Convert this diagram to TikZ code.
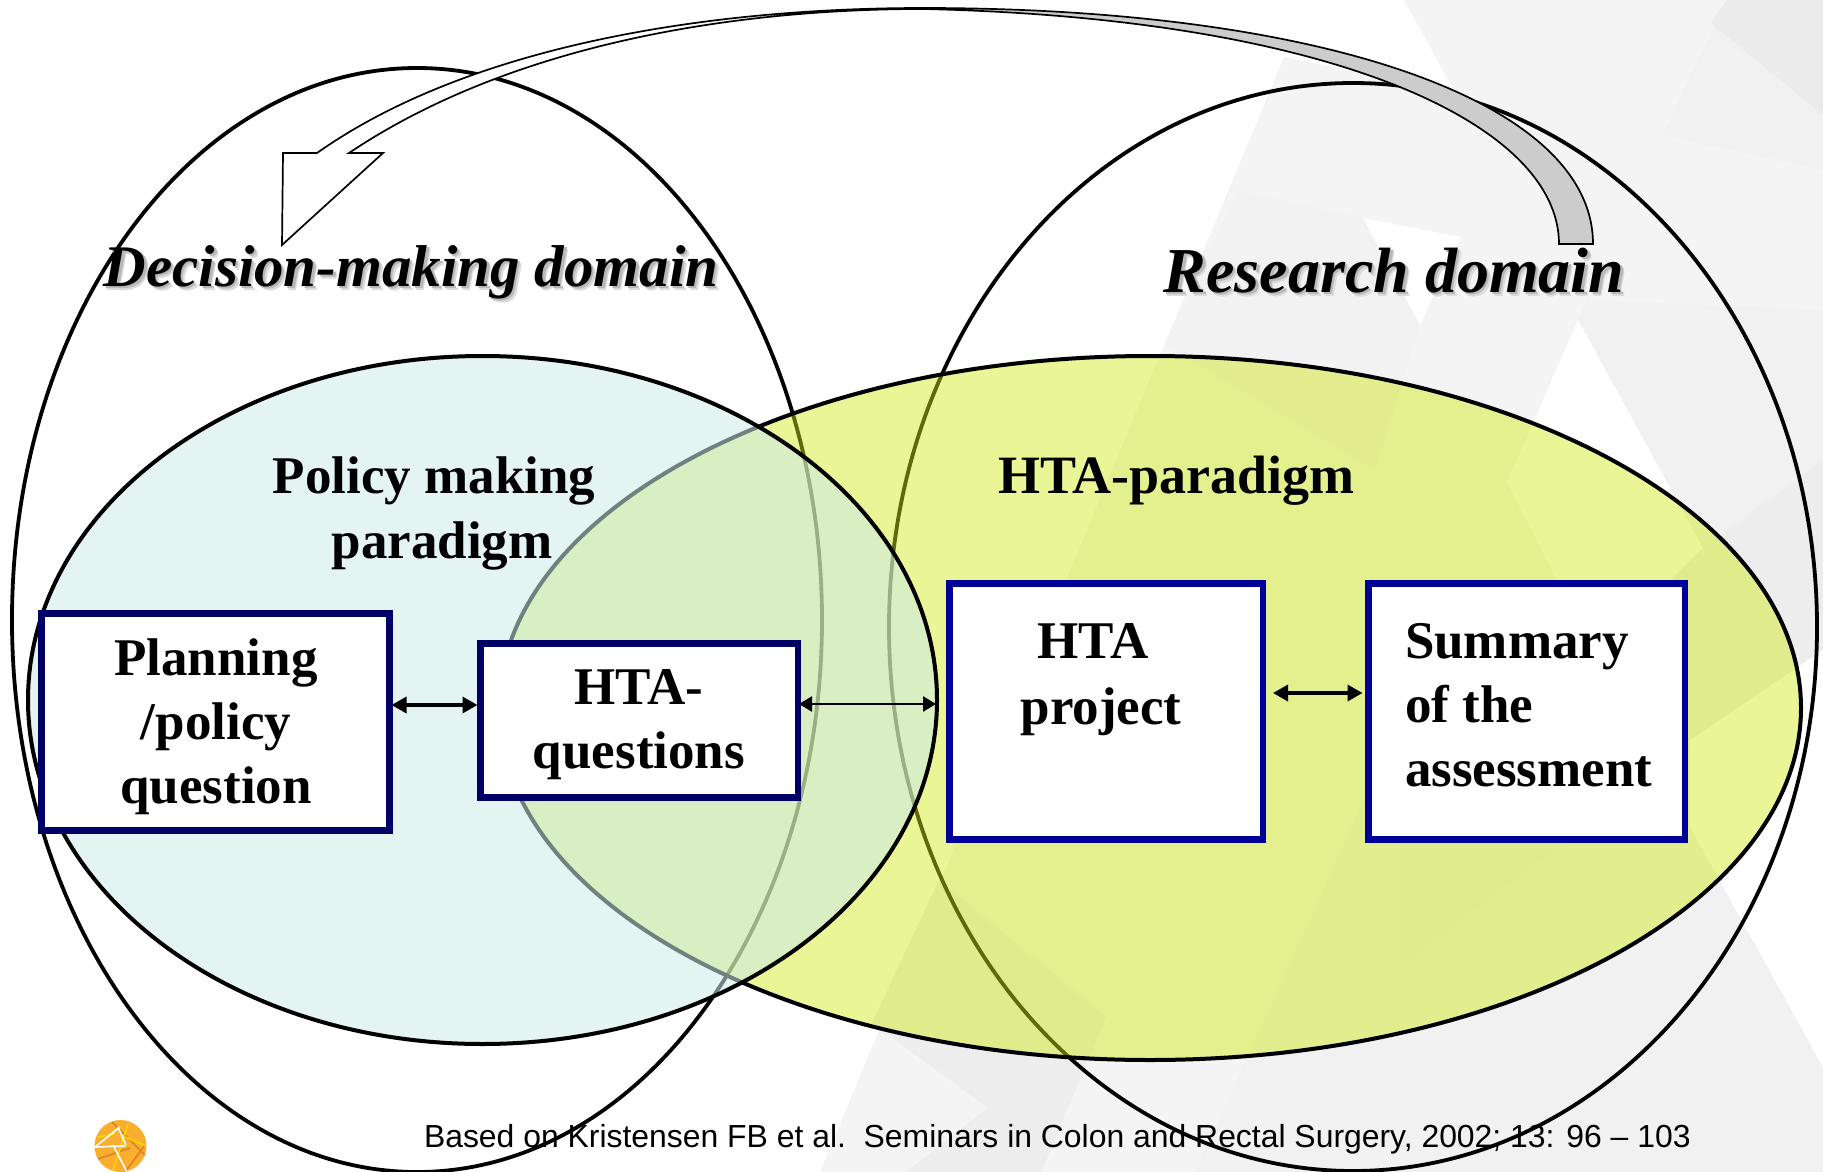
\documentclass[tikz,border=0pt]{standalone}
\usepackage{fontspec}
\setmainfont{Liberation Serif}
\newfontfamily\footfont{Liberation Sans}
\usetikzlibrary{arrows.meta,shapes.geometric}
\definecolor{htafill}{RGB}{209,233,20}
\definecolor{polfill}{RGB}{204,235,233}
\definecolor{navyA}{RGB}{0,0,102}
\definecolor{navyB}{RGB}{0,0,153}
\definecolor{logoorange}{RGB}{249,174,45}
\definecolor{logodark}{RGB}{222,130,40}
\definecolor{logoyellow}{RGB}{255,214,0}
\newcommand{\softshadow}[1]{\makebox[0pt][l]{\hspace{4pt}\raisebox{-4pt}{\color{black!14}#1}}\makebox[0pt][l]{\hspace{2.5pt}\raisebox{-2.5pt}{\color{black!28}#1}}#1}
\tikzset{
  x=1pt,y=-1pt,
  domainring/.style={ellipse,draw=black,line width=3.8pt,inner sep=0pt,outer sep=0pt},
  hta ring/.style={ellipse,draw=black,line width=4pt,inner sep=0pt,outer sep=0pt,fill=htafill,fill opacity=.45},
  pol ring/.style={ellipse,draw=black,line width=4pt,inner sep=0pt,outer sep=0pt,fill=polfill,fill opacity=.55},
  boxA/.style={rectangle,draw=navyA,fill=white,line width=6.2pt,inner sep=0pt,outer sep=0pt},
  boxB/.style={rectangle,draw=navyB,fill=white,line width=6.2pt,inner sep=0pt,outer sep=0pt},
  label text/.style={inner sep=0pt,outer sep=0pt,font=\fontsize{53}{64}\selectfont\bfseries},
  domain text/.style={inner sep=0pt,outer sep=0pt,font=\bfseries\itshape},
  both arrow/.style={{Triangle[length=15pt,width=16pt]}-{Triangle[length=15pt,width=16pt]},line width=3.4pt,black},
  thin arrow/.style={{Triangle[length=13pt,width=15pt]}-{Triangle[length=13pt,width=15pt]},line width=2.6pt,black},
  curve part/.style={draw=black,line width=1.7pt,line join=miter},
  logo line/.style={line width=1.6pt},
}
\begin{document}
\begin{tikzpicture}
\useasboundingbox (0,0) rectangle (1823,1172);
\fill[white] (0,0) rectangle (1823,1172);
% background fan
\fill[black!4.5] (1404,0) -- (1455,92) -- (1284,57) -- (820,1172) -- (1823,1172) -- (1823,0) -- cycle;
\fill[black!5.5] (1727,0) -- (1663,135) -- (1823,170) -- (1823,0) -- cycle;
\fill[black!8] (1727,0) -- (1711,23) -- (1823,115) -- (1823,0) -- cycle;
\fill[black!5.5] (1587,300) -- (1578,320) -- (1703,548) -- (1823,460) -- (1823,310) -- cycle;
\fill[black!5] (1238,191) -- (1363,218) -- (1420,325) -- (1375,470) -- (1165,345) -- cycle;
\fill[black!5.5] (1400,720) -- (1196,1172) -- (1823,1172) -- (1823,1067) -- (1690,827) -- (1690,740) -- cycle;
\fill[black!7] (1823,460) -- (1703,548) -- (1400,770) -- (1400,967) -- (1823,650) -- cycle;
\fill[black!7] (939,880) -- (1106,1017) -- (1041,1172) -- (906,1172) -- (988,1108) -- (872,1023) -- cycle;
\fill[white] (1363,218) -- (1460,237) -- (1420,325) -- cycle;
\fill[white] (1578,320) -- (1703,548) -- (1670,580) -- (1557,580) -- (1507,482) -- cycle;
\fill[white] (1823,650) -- (1690,740) -- (1690,827) -- (1823,1067) -- cycle;
% rings
\node[domainring,minimum width=810pt,minimum height=1104pt] (decision) at (417,620) {};
\node[domainring,minimum width=928pt,minimum height=1088pt] (research) at (1353,627) {};
\node[hta ring,minimum width=1302pt,minimum height=704pt] (hta) at (1150,708) {};
\node[pol ring,minimum width=909pt,minimum height=688pt] (policy) at (482.5,700) {};
% boxes
\node[boxA,minimum width=348pt,minimum height=217pt] (planning) at (215.5,722) {};
\node[boxA,minimum width=317.5pt,minimum height=154pt] (questions) at (639.25,720.5) {};
\node[boxB,minimum width=313.5pt,minimum height=256pt] (project) at (1106.25,711.5) {};
\node[boxB,minimum width=316.5pt,minimum height=256pt] (summary) at (1526.75,711.5) {};
% connector rows
\coordinate (rowa) at (0,705);
\coordinate (rowb) at (0,704);
\coordinate (rowc) at (0,693);
\draw[both arrow] ([xshift=2pt]planning.east |- rowa) -- ([xshift=-3pt]questions.west |- rowa);
\draw[thin arrow] ([xshift=1pt]questions.east |- rowb) -- ([xshift=-1pt]policy.east |- rowb);
\draw[both arrow] ([xshift=10pt]project.east |- rowc) -- ([xshift=-6pt]summary.west |- rowc);
% texts
\node[label text,align=center,anchor=base] (tplanning) at (216,803) {Planning\\/policy\\question};
\node[label text,align=center,anchor=base] (tquestions) at (639,768) {HTA-\\questions};
\node[label text,anchor=base] (thta) at (1093,658) {HTA};
\node[label text,anchor=base] (tproject) at (1101,724) {project};
\node[label text,align=left,anchor=base west] (tsummary) at (1405,786) {Summary\\of the\\assessment};
\node[label text,anchor=base] (tpolicya) at (434,493) {Policy making};
\node[label text,anchor=base] (tpolicyb) at (442,558) {paradigm};
\node[label text,anchor=base,font=\fontsize{54}{64}\selectfont\bfseries] (tparadigm) at (1176,493) {HTA-paradigm};
\node[domain text,anchor=base,font=\fontsize{59}{70}\selectfont\bfseries\itshape] (tdecision) at (411,286) {\softshadow{Decision-making domain}};
\node[domain text,anchor=base,font=\fontsize{64}{74}\selectfont\bfseries\itshape] (tresearch) at (1394,292) {\softshadow{Research domain}};
\node[inner sep=0pt,outer sep=0pt,anchor=base west,font=\footfont\fontsize{31.9}{38}\selectfont] (source) at (424,1147) {Based on Kristensen FB et al.\ \ Seminars in Colon and Rectal Surgery, 2002; 13: 96 – 103};
% curved arrow
\path[curve part,fill=white] (923,8) .. controls (710,8) and (470,45) .. (317,153) -- (283,153) -- (282,245) -- (383,153) -- (349,153) .. controls (510,45) and (730,9) .. (923,9) -- cycle;
\path[curve part,fill=black!20] (923,8) .. controls (1325,8) and (1593,102) .. (1593,244) -- (1559,244) .. controls (1559,125) and (1335,18) .. (923,9) -- cycle;
% logo
\begin{scope}
\clip (120.5,1146) ellipse [x radius=26,y radius=26];
\fill[logoorange] (90,1115) rectangle (150,1172);
\draw[logo line,draw=logodark] (112,1122) -- (145,1155);
\draw[logo line,draw=logodark] (98,1159) -- (130,1148);
\draw[logo line,draw=logodark] (125,1172) -- (145,1145);
\draw[logo line,draw=logoyellow] (128,1124) -- (113,1170);
\draw[logo line,draw=logoyellow] (98,1137) -- (115,1134);
\draw[logo line,draw=logoyellow] (125,1137) -- (146,1146);
\draw[logo line,draw=white] (120,1127) -- (95,1147) -- (125,1146);
\draw[logo line,draw=white] (113,1145) -- (127,1172);
\draw[logo line,draw=white] (118,1127) -- (126,1145);
\end{scope}
\end{tikzpicture}
\end{document}
